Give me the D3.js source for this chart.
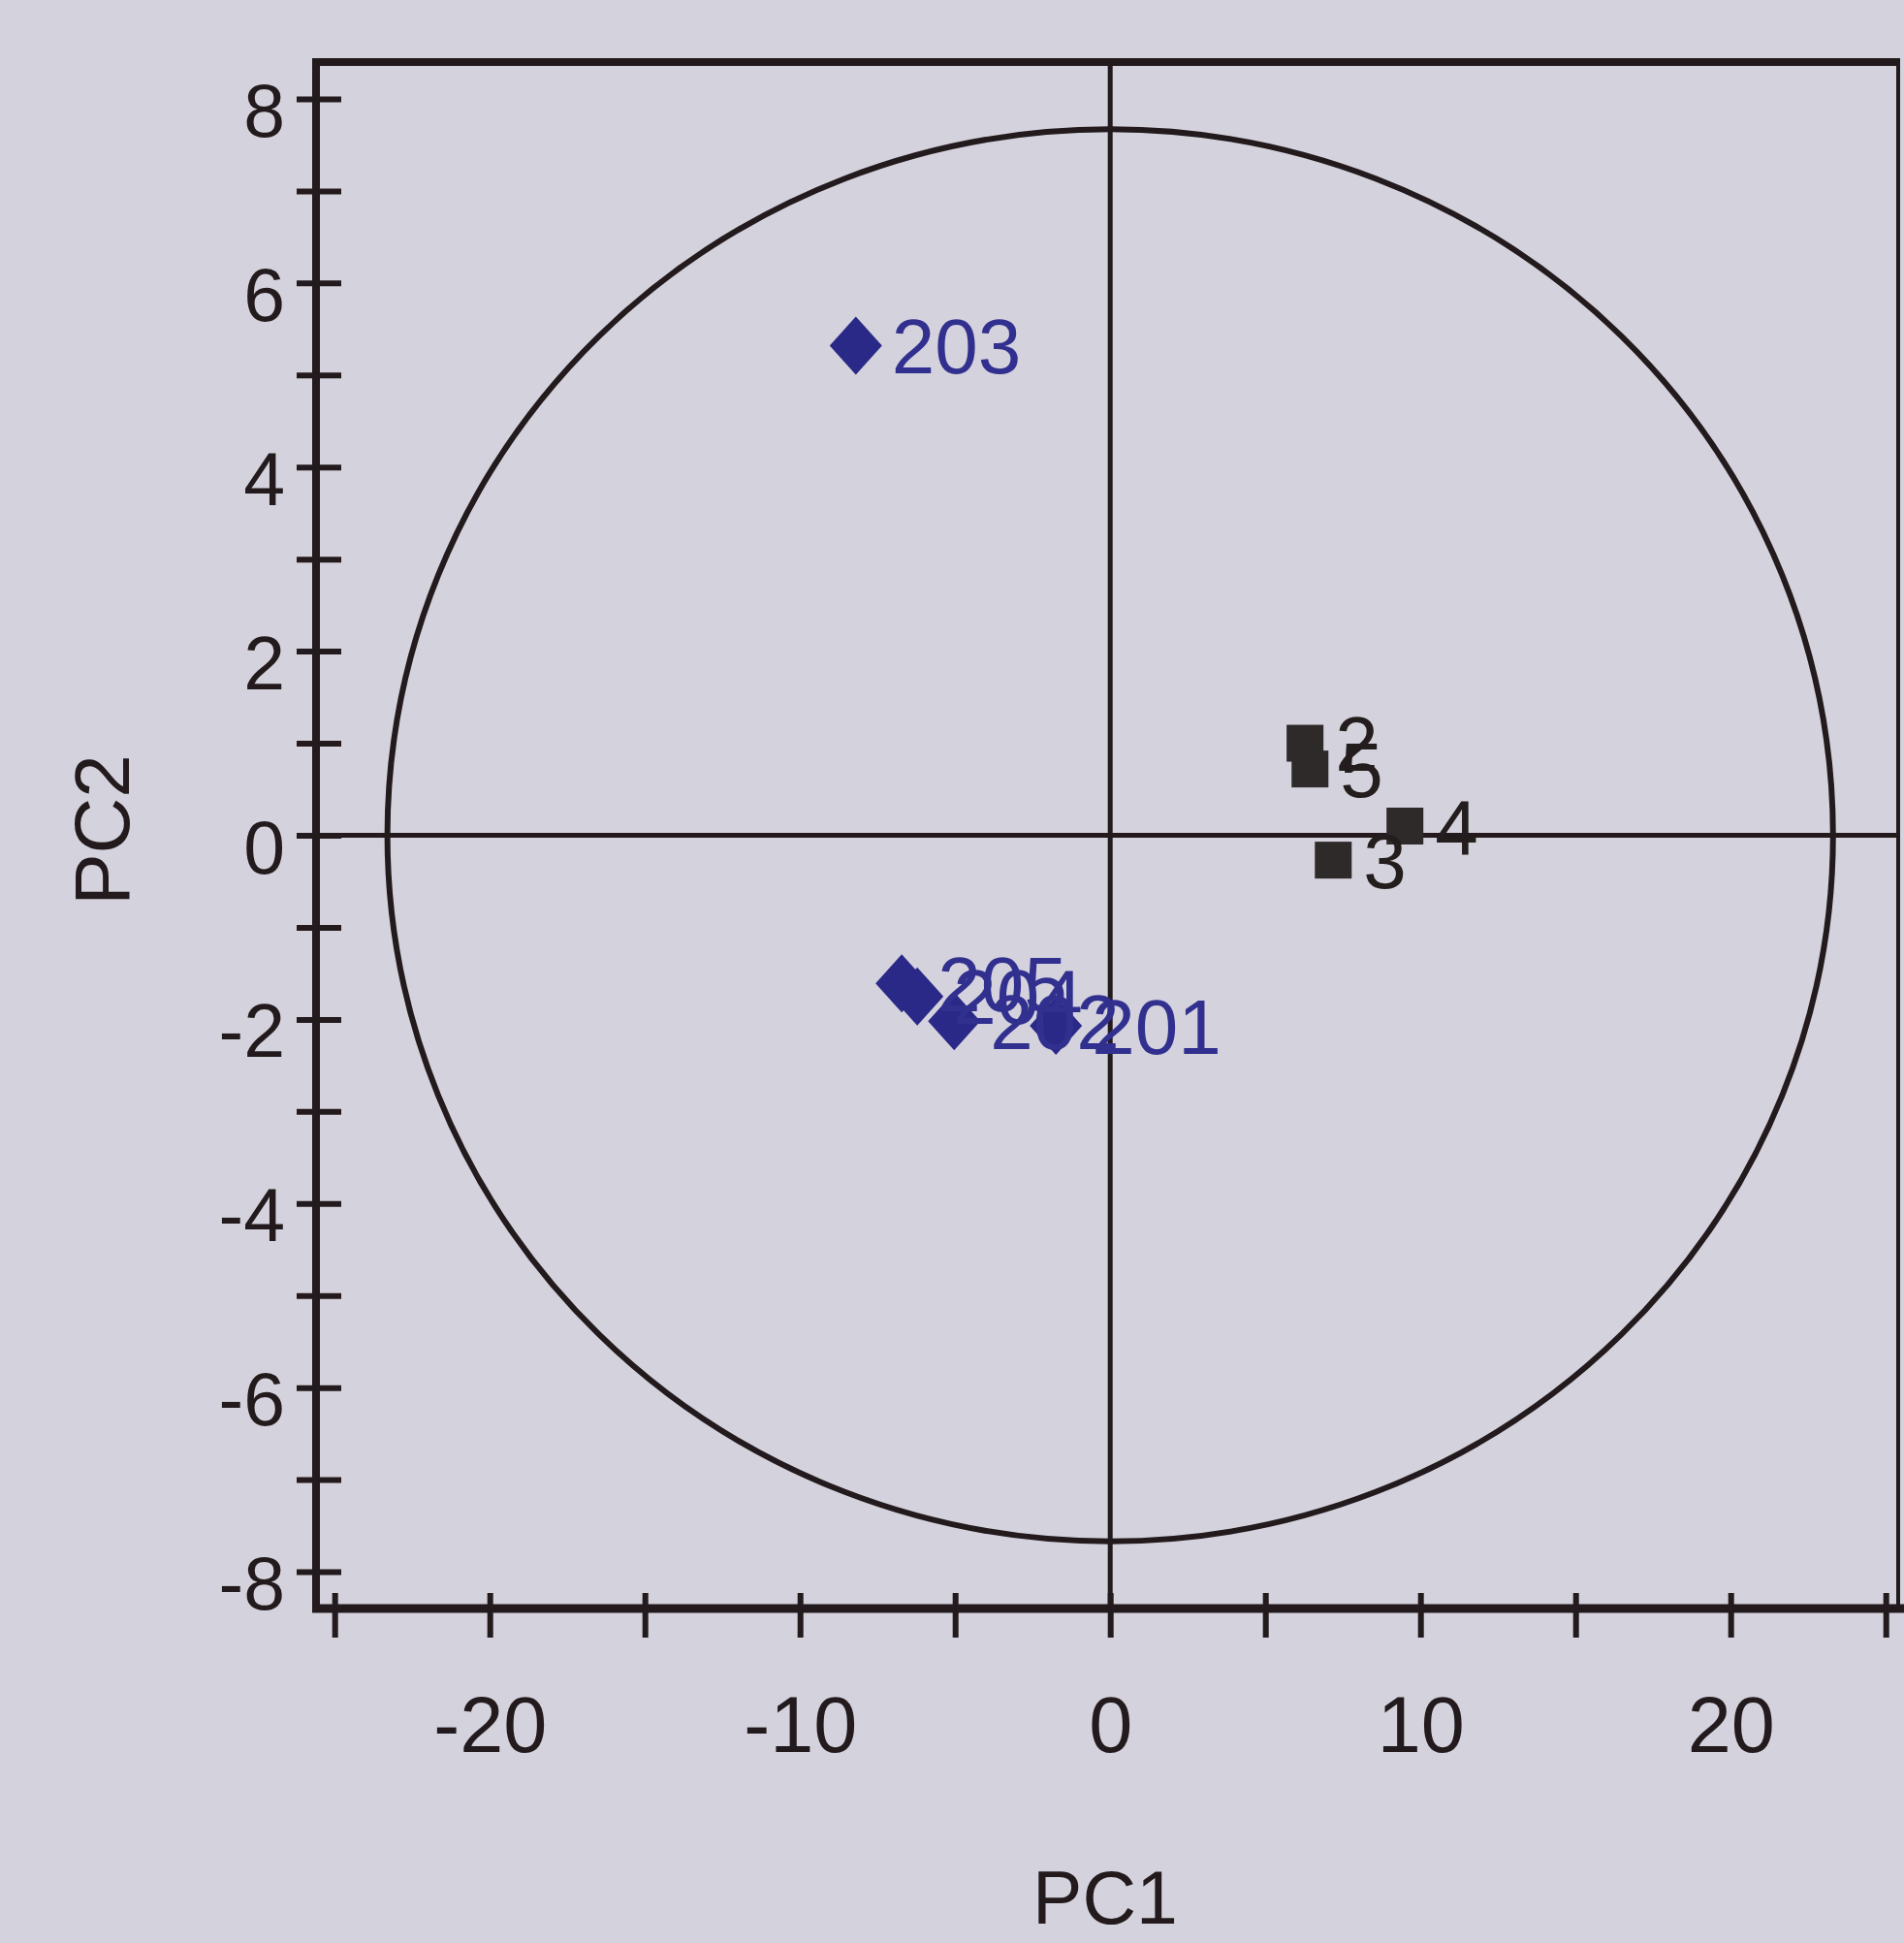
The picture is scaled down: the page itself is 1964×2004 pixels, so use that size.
<!DOCTYPE html>
<html>
<head>
<meta charset="utf-8">
<script src="https://cdn.jsdelivr.net/npm/d3@7"></script>
<style>
  html, body { margin: 0; padding: 0; background: #d4d2dc; }
  svg { display: block; }
  text { font-family: "Liberation Sans", Arial, Helvetica, sans-serif; }
</style>
</head>
<body>
<svg id="chart" width="1964" height="2004"></svg>
<script>
// Score plot data: PC1 / PC2 scores for the two sample groups
const groupAIds = ["205", "204", "202", "201", "203"];
const groupAPC1 = [-6.72, -6.22, -5.03, -1.75, -8.20];
const groupAPC2 = [-1.61, -1.75, -2.02, -2.07, 5.32];

const groupBIds = ["2", "5", "3", "4"];
const groupBPC1 = [6.28, 6.44, 7.19, 9.50];
const groupBPC2 = [1.00, 0.72, -0.27, 0.10];

// Confidence ellipse (Hotelling T2) semi-axes in score units
const ellipsePC1Radius = 23.3;
const ellipsePC2Radius = 7.67;

// Axis ticks and labels
const pc1TickValues = [-25, -20, -15, -10, -5, 0, 5, 10, 15, 20, 25];
const pc1TickLabels = [-20, -10, 0, 10, 20];
const pc2TickValues = [-8, -7, -6, -5, -4, -3, -2, -1, 0, 1, 2, 3, 4, 5, 6, 7, 8];
const pc2TickLabels = [-8, -6, -4, -2, 0, 2, 4, 6, 8];
const pc1Title = "PC1";
const pc2Title = "PC2";

const ink = "#221a1c";
const blueMark = "#2a2988";
const blueText = "#31308f";
const greyMark = "#2e2a2a";
const greyText = "#231d1d";

const svg = d3.select("#chart");

const x = d3.scaleLinear().domain([-25.6, 25.4]).range([326, 1958]);
const y = d3.scaleLinear().domain([-8.4, 8.4]).range([1659, 64]);

const [xL, xR] = x.range();
const [yB, yT] = y.range();

// Confidence ellipse
svg.append("ellipse")
  .attr("cx", x(0))
  .attr("cy", y(0))
  .attr("rx", x(ellipsePC1Radius) - x(0))
  .attr("ry", y(0) - y(ellipsePC2Radius))
  .attr("fill", "none")
  .attr("stroke", ink)
  .attr("stroke-width", 6);

// Zero reference lines
svg.append("line")
  .attr("x1", x(0)).attr("x2", x(0))
  .attr("y1", yT).attr("y2", yB)
  .attr("stroke", ink).attr("stroke-width", 5);
svg.append("line")
  .attr("x1", xL).attr("x2", xR)
  .attr("y1", y(0)).attr("y2", y(0))
  .attr("stroke", ink).attr("stroke-width", 5);

// Frame: top and right edges
svg.append("line")
  .attr("x1", xL - 4).attr("x2", xR + 2)
  .attr("y1", yT).attr("y2", yT)
  .attr("stroke", ink).attr("stroke-width", 8);
svg.append("line")
  .attr("x1", xR).attr("x2", xR)
  .attr("y1", yT).attr("y2", yB)
  .attr("stroke", ink).attr("stroke-width", 4);

// Y axis (PC2)
const yAxis = d3.axisLeft(y)
  .tickValues(pc2TickValues)
  .tickSize(20)
  .tickSizeOuter(0)
  .tickPadding(12)
  .tickFormat(d => pc2TickLabels.includes(d) ? String(d) : "");
const gy = svg.append("g").attr("transform", `translate(${xL},0)`).call(yAxis);
gy.select(".domain").remove();
gy.selectAll(".tick line").attr("x1", 26).attr("stroke", ink).attr("stroke-width", 6);
gy.selectAll(".tick text")
  .attr("fill", ink)
  .attr("font-size", 77)
  .attr("dy", "0.5em");
svg.append("line")
  .attr("x1", xL).attr("x2", xL)
  .attr("y1", yT - 4).attr("y2", yB + 4)
  .attr("stroke", ink).attr("stroke-width", 8);

// X axis (PC1)
const xAxis = d3.axisBottom(x)
  .tickValues(pc1TickValues)
  .tickSize(30)
  .tickSizeOuter(0)
  .tickFormat(d => pc1TickLabels.includes(d) ? String(d) : "");
const gx = svg.append("g").attr("transform", `translate(0,${yB})`).call(xAxis);
gx.select(".domain").remove();
gx.selectAll(".tick line").attr("y1", -16).attr("stroke", ink).attr("stroke-width", 6);
gx.selectAll(".tick text")
  .attr("fill", ink)
  .attr("font-size", 81)
  .attr("y", 148)
  .attr("dy", 0);
svg.append("line")
  .attr("x1", xL - 4).attr("x2", xR + 6)
  .attr("y1", yB).attr("y2", yB)
  .attr("stroke", ink).attr("stroke-width", 9);

// Axis titles
svg.append("text")
  .attr("x", 1140).attr("y", 1984)
  .attr("text-anchor", "middle")
  .attr("font-size", 77)
  .attr("fill", ink)
  .text(pc1Title);
svg.append("text")
  .attr("transform", "translate(133,856) rotate(-90)")
  .attr("text-anchor", "middle")
  .attr("font-size", 80)
  .attr("fill", ink)
  .text(pc2Title);

// Point records built from the arrays
const groupA = groupAIds.map((id, i) => ({ id, pc1: groupAPC1[i], pc2: groupAPC2[i] }));
const groupB = groupBIds.map((id, i) => ({ id, pc1: groupBPC1[i], pc2: groupBPC2[i] }));

// Diamonds (group A)
svg.append("g").selectAll("path")
  .data(groupA)
  .join("path")
  .attr("transform", d => `translate(${x(d.pc1)},${y(d.pc2)})`)
  .attr("d", "M0,-30L27,0L0,30L-27,0Z")
  .attr("fill", blueMark);

// Squares (group B)
const sq = 38;
svg.append("g").selectAll("rect")
  .data(groupB)
  .join("rect")
  .attr("x", d => x(d.pc1) - sq / 2)
  .attr("y", d => y(d.pc2) - sq / 2)
  .attr("width", sq)
  .attr("height", sq)
  .attr("fill", greyMark);

// Point labels
svg.append("g").selectAll("text")
  .data(groupA)
  .join("text")
  .attr("x", d => x(d.pc1) + 37)
  .attr("y", d => y(d.pc2))
  .attr("dy", "0.36em")
  .attr("font-size", 80)
  .attr("fill", blueText)
  .text(d => d.id);

svg.append("g").selectAll("text")
  .data(groupB)
  .join("text")
  .attr("x", d => x(d.pc1) + 31)
  .attr("y", d => y(d.pc2))
  .attr("dy", "0.36em")
  .attr("font-size", 80)
  .attr("fill", greyText)
  .text(d => d.id);
</script>
</body>
</html>
